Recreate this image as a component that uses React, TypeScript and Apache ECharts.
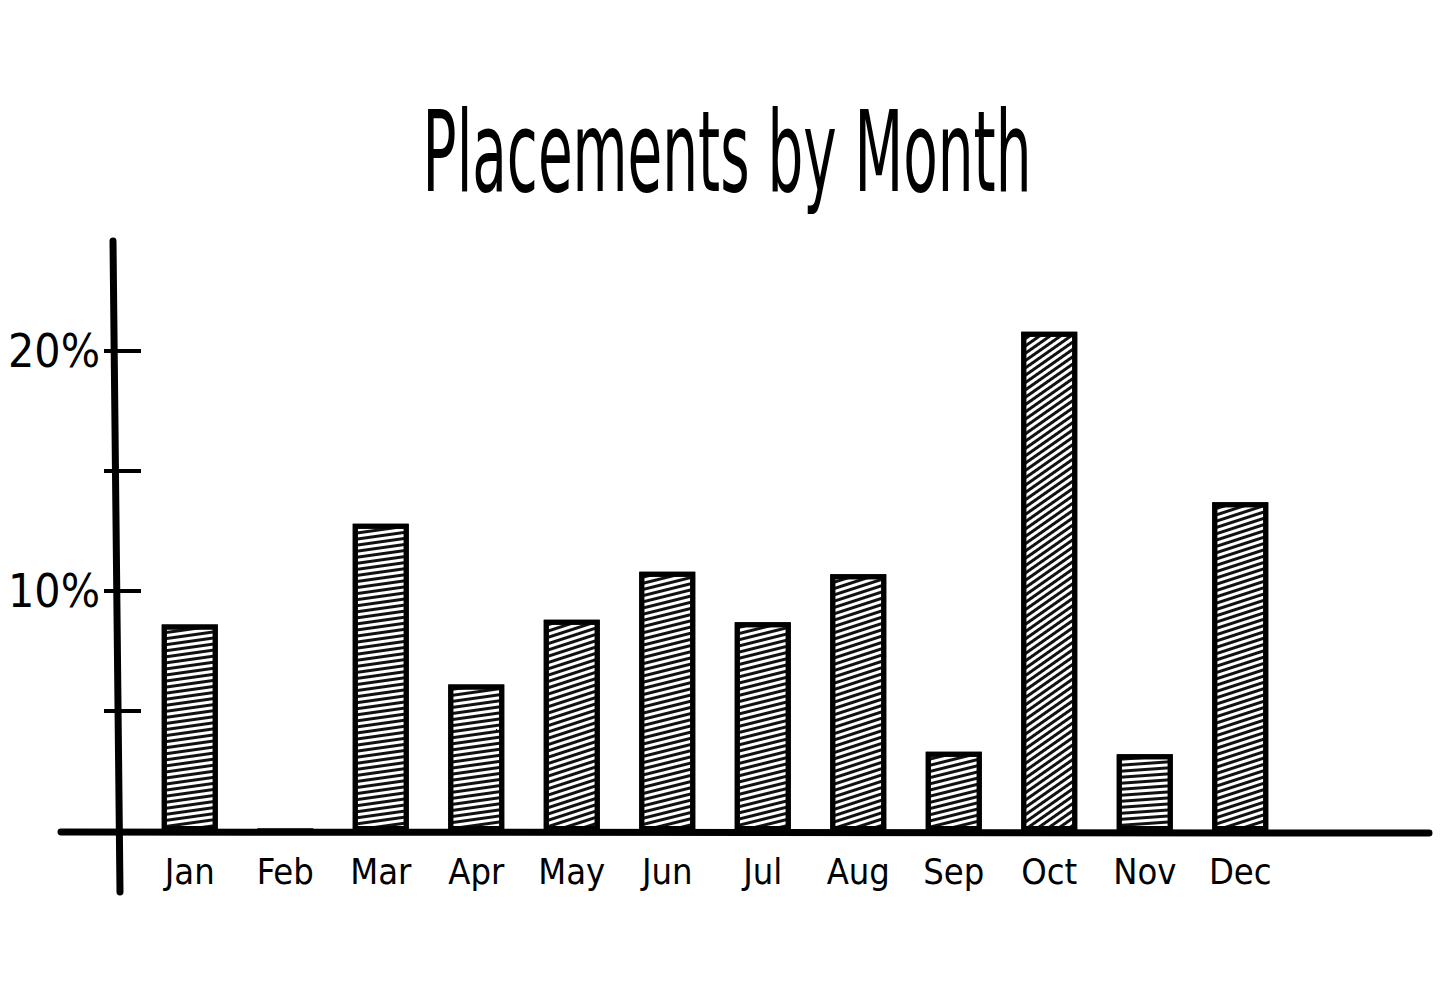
import React, { useEffect, useRef } from "react";
import * as echarts from "echarts";

// Share of placements per month (%)
const months = ["Jan", "Feb", "Mar", "Apr", "May", "Jun", "Jul", "Aug", "Sep", "Oct", "Nov", "Dec"];
const placements = [8.6, 0, 12.8, 6.1, 8.8, 10.8, 8.7, 10.7, 3.3, 20.8, 3.2, 13.7];
const tickValues = [5, 10, 15, 20];
const labelValues = [10, 20];

// Hatching angle (degrees, rising to the right) for each bar's pencil shading
const hatchAngles = [8, 0, 8, 8, 18, 14, 14, 18, 14, 35, 4, 18];

const FONT = '"Liberation Sans Narrow", "DejaVu Sans Condensed", "DejaVu Sans", sans-serif';

export default function App() {
  const ref = useRef<HTMLDivElement>(null);

  useEffect(() => {
    if (!ref.current) return;
    const chart = echarts.init(ref.current, null, { renderer: "svg" });

    const data = placements.map((v, i) => ({
      value: v,
      itemStyle: {
        decal: {
          symbol: "rect",
          symbolSize: 1,
          dashArrayX: [1, 0],
          dashArrayY: [2.6, 2.4],
          rotation: (-hatchAngles[i] * Math.PI) / 180,
          color: "#111111",
          backgroundColor: "#ffffff",
        },
      },
    }));

    chart.setOption({
      animation: false,
      backgroundColor: "#ffffff",
      grid: { left: 142, right: 168, top: 231, bottom: 156 },
      xAxis: {
        type: "category",
        data: months,
        axisLine: { show: false },
        axisTick: { show: false },
        axisLabel: {
          color: "#000",
          fontFamily: FONT,
          fontSize: 36,
          margin: 22,
        },
      },
      yAxis: {
        type: "value",
        min: 0,
        max: 25,
        interval: 5,
        offset: 38,
        splitLine: { show: false },
        axisLine: { show: false },
        axisTick: {
          show: true,
          inside: true,
          length: 37,
          customValues: tickValues,
          lineStyle: { color: "#000", width: 4 },
        },
        axisLabel: {
          color: "#000",
          fontFamily: FONT,
          fontSize: 46,
          margin: 4,
          customValues: labelValues,
          formatter: (v: number) => `${v}%`,
        },
      },
      series: [
        {
          type: "bar",
          data,
          barWidth: 56,
          itemStyle: {
            color: "#ffffff",
            borderColor: "#000",
            borderWidth: 5,
          },
        },
      ],
      graphic: [
        {
          type: "text",
          x: 727,
          y: 152,
          scaleX: 0.56,
          style: {
            text: "Placements by Month",
            fontFamily: FONT,
            fontSize: 112,
            fill: "#000",
            textAlign: "center",
            textVerticalAlign: "middle",
          },
        },
        {
          type: "line",
          shape: { x1: 113, y1: 241, x2: 120, y2: 892 },
          style: { stroke: "#000", lineWidth: 7, lineCap: "round" },
          z: 10,
        },
        {
          type: "line",
          shape: { x1: 61, y1: 832, x2: 1429, y2: 833 },
          style: { stroke: "#000", lineWidth: 7, lineCap: "round" },
          z: 10,
        },
      ],
    });

    return () => chart.dispose();
  }, []);

  return (
    <div
      ref={ref}
      style={{ position: "fixed", left: 0, top: 0, width: 1456, height: 987, background: "#fff" }}
    />
  );
}
